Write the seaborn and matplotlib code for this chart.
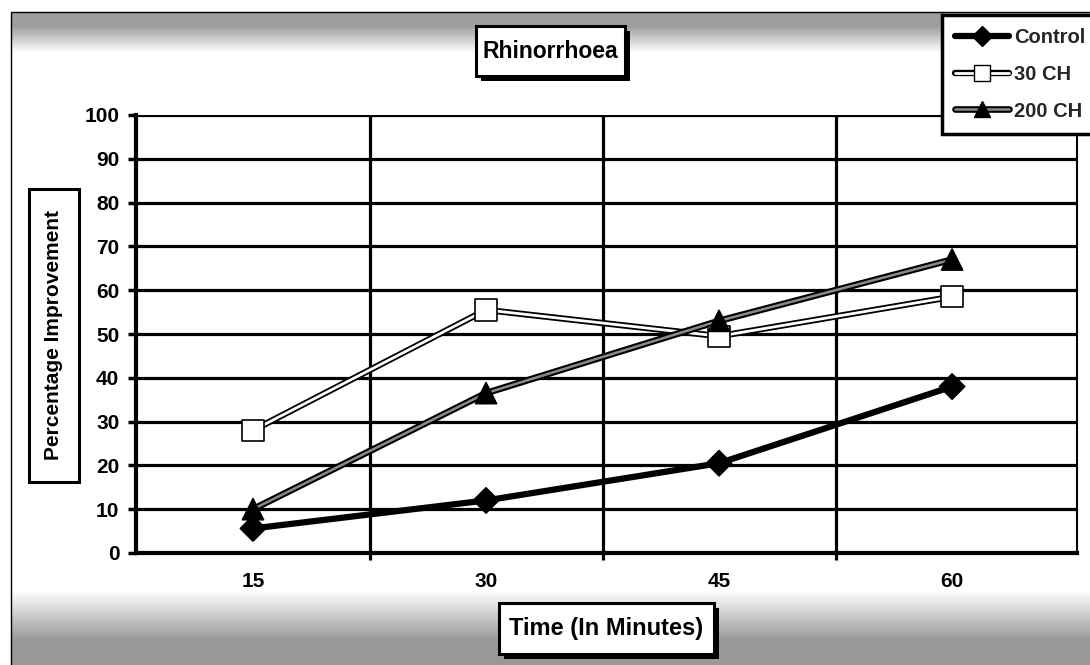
import numpy as np
import pandas as pd
import matplotlib
matplotlib.use("Agg")
import matplotlib.pyplot as plt
import matplotlib.patheffects as pe
from matplotlib.lines import Line2D
from matplotlib.patches import Rectangle
from matplotlib.legend_handler import HandlerTuple
from matplotlib.ticker import FixedLocator
import seaborn as sns

# ---- data -------------------------------------------------------------
times = ["15", "30", "45", "60"]
control = [5.6, 12.0, 20.5, 38.0]
ch30 = [28.0, 55.5, 49.5, 58.5]
ch200 = [10.0, 36.5, 53.0, 67.0]
series_names = ["Control", "30 CH", "200 CH"]
y_ticks = list(range(0, 101, 10))

df = pd.DataFrame({
    "time": times * 3,
    "value": control + ch30 + ch200,
    "series": [s for s in series_names for _ in times],
})

# ---- style ------------------------------------------------------------
sns.set_theme(style="white")
plt.rcParams["font.family"] = ["Liberation Sans", "DejaVu Sans"]
plt.rcParams["font.weight"] = "bold"

W, H = 1090, 665
fig = plt.figure(figsize=(W / 100, H / 100), dpi=100)


def fx(px):
    return px / W


def fy(py):
    return 1 - py / H


# grainy scan bands along the top and bottom edges
bg = fig.add_axes([0, 0, 1, 1], zorder=-10)
bg.set_axis_off()
rows = np.arange(H)
alpha = np.zeros(H)
alpha += np.clip((rows >= 13) * (1 - (rows - 26) / 26.0), 0, 1) * 0.42
alpha += np.clip((rows - 590) / 50.0, 0, 1) * 0.45
img = np.zeros((H, W, 4))
img[..., :3] = 0.1
img[..., 3] = alpha[:, None]
img[:, :11, 3] = 0
bg.imshow(img, extent=(0, W, H, 0), aspect="auto", interpolation="bilinear")
bg.set_xlim(0, W)
bg.set_ylim(H, 0)

# chart-area frame
fig.add_artist(Rectangle((fx(11), fy(700)), fx(1200), fy(12) - fy(700),
                         transform=fig.transFigure, fill=False,
                         edgecolor="black", linewidth=1.0, zorder=-5))

# ---- plot area --------------------------------------------------------
ax = fig.add_axes([fx(136), fy(553), fx(1077) - fx(136), fy(115) - fy(553)])
ax.set_facecolor("white")

line_palette = {"Control": "black", "30 CH": "white", "200 CH": "#8a8a8a"}
sns.lineplot(data=df, x="time", y="value", hue="series", hue_order=series_names,
             palette=line_palette, sort=False, legend=False, ax=ax, zorder=3)
lines = ax.get_lines()[:3]
lines[0].set_linewidth(4.5)
lines[1].set_linewidth(2.0)
lines[1].set_path_effects([pe.Stroke(linewidth=4.6, foreground="black"), pe.Normal()])
lines[2].set_linewidth(1.8)
lines[2].set_path_effects([pe.Stroke(linewidth=4.8, foreground="black"), pe.Normal()])

marker_map = {"Control": "D", "30 CH": "s", "200 CH": "^"}
face_map = {"Control": "black", "30 CH": "white", "200 CH": "black"}
size_map = {"Control": 165, "30 CH": 235, "200 CH": 230}
sns.scatterplot(data=df, x="time", y="value", hue="series", hue_order=series_names,
                style="series", markers=marker_map, size="series", sizes=size_map,
                palette=face_map, edgecolor="black", linewidth=1.2,
                legend=False, ax=ax, zorder=4)

ax.set_xlim(-0.502, 3.536)
ax.set_ylim(0, 100)
ax.set_yticks(y_ticks)
ax.set_yticklabels([str(t) for t in y_ticks])
ax.xaxis.set_minor_locator(FixedLocator([0.5, 1.5, 2.5]))
ax.set_axisbelow(True)
ax.grid(True, axis="y", which="major", color="black", linewidth=2.3)
ax.grid(True, axis="x", which="minor", color="black", linewidth=2.3)
ax.grid(False, axis="x", which="major")

ax.tick_params(axis="y", which="major", direction="out", length=6, width=2.5,
               color="black", pad=6, labelsize=15, left=True)
ax.tick_params(axis="x", which="major", length=0, pad=14, labelsize=15)
ax.tick_params(axis="x", which="minor", direction="out", length=5, width=2.3,
               color="black", bottom=True)
for lab in ax.get_xticklabels() + ax.get_yticklabels():
    lab.set_fontweight("bold")
    lab.set_color("black")

ax.spines["top"].set_visible(False)
ax.spines["left"].set_linewidth(3)
ax.spines["left"].set_color("black")
ax.spines["bottom"].set_linewidth(3)
ax.spines["bottom"].set_color("black")
ax.spines["right"].set_linewidth(1.5)
ax.spines["right"].set_color("black")
ax.set_xlabel("")
ax.set_ylabel("")


# ---- boxed labels ------------------------------------------------------
def boxed_text(x0, y0, x1, y1, text, size, rotation=0, shadow=5):
    sh = Rectangle((fx(x0 + shadow), fy(y1 + shadow)), fx(x1 - x0), fy(y0) - fy(y1),
                   transform=fig.transFigure, facecolor="black", edgecolor="black",
                   linewidth=0, zorder=5)
    box = Rectangle((fx(x0), fy(y1)), fx(x1 - x0), fy(y0) - fy(y1),
                    transform=fig.transFigure, facecolor="white", edgecolor="black",
                    linewidth=2.2, zorder=6)
    fig.add_artist(sh)
    fig.add_artist(box)
    fig.text(fx((x0 + x1) / 2), fy((y0 + y1) / 2), text, ha="center", va="center",
             fontsize=size, fontweight="bold", rotation=rotation, color="black",
             zorder=7)


boxed_text(476, 26, 625, 76, "Rhinorrhoea", 16.5)
boxed_text(29, 189, 79, 482, "Percentage Improvement", 15, rotation=90, shadow=2)
boxed_text(499, 603, 714, 654, "Time (In Minutes)", 17)

# ---- legend -------------------------------------------------------------
def legend_entry(name):
    i = series_names.index(name)
    ln = Line2D([], [], color=line_palette[name], linewidth=lines[i].get_linewidth(),
                path_effects=lines[i].get_path_effects())
    mk = Line2D([], [], linestyle="none", marker=marker_map[name],
                markersize={"Control": 10, "30 CH": 12, "200 CH": 11}[name],
                markerfacecolor=face_map[name], markeredgecolor="black",
                markeredgewidth=1.0)
    return (ln, mk)


handles = [legend_entry(n) for n in series_names]
leg = fig.legend(handles, series_names, handler_map={tuple: HandlerTuple(ndivide=1)},
                 loc="upper left", bbox_to_anchor=(fx(942), fy(15)),
                 bbox_transform=fig.transFigure, frameon=True, fancybox=False,
                 framealpha=1, edgecolor="black", fontsize=14.5, borderpad=0.65,
                 labelspacing=0.88, handlelength=2.7, handletextpad=0.25,
                 borderaxespad=0, numpoints=1)
leg.get_frame().set_linewidth(2.5)
leg.set_zorder(8)
for t in leg.get_texts():
    t.set_fontweight("bold")

fig.savefig("out.png", dpi=100)
